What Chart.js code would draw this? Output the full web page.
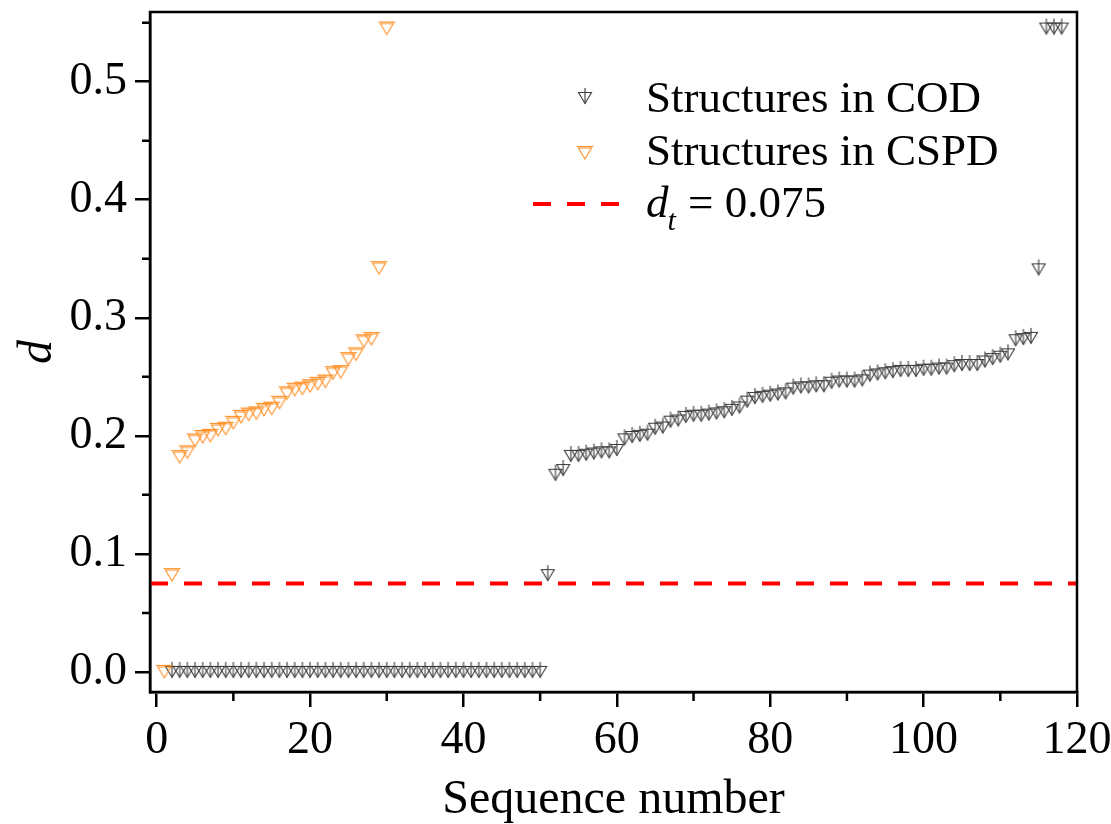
<!DOCTYPE html>
<html>
<head>
<meta charset="utf-8">
<script src="https://cdn.jsdelivr.net/npm/chart.js@4.4.1/dist/chart.umd.min.js"></script>
<style>
  body { margin: 0; background: #fff; }
  #wrap { width: 1111px; height: 824px; }
</style>
</head>
<body>
<div id="wrap"><canvas id="chart" width="1111" height="824"></canvas></div>
<script>
// sequence numbers start here for each series
const codStart = 2;
const cspdStart = 1;

// d values, Structures in COD
const codValues = [
  0, 0, 0, 0, 0, 0, 0, 0, 0, 0,
  0, 0, 0, 0, 0, 0, 0, 0, 0, 0,
  0, 0, 0, 0, 0, 0, 0, 0, 0, 0,
  0, 0, 0, 0, 0, 0, 0, 0, 0, 0,
  0, 0, 0, 0, 0, 0, 0, 0, 0,
  0.082,
  0.167, 0.171, 0.183, 0.183, 0.184, 0.185, 0.186, 0.186, 0.188,
  0.197, 0.199, 0.200, 0.201, 0.206, 0.207, 0.212, 0.213, 0.216, 0.217,
  0.217, 0.218, 0.219, 0.220, 0.222, 0.224, 0.229, 0.232, 0.233, 0.234,
  0.235, 0.236, 0.240, 0.241, 0.241, 0.242, 0.242, 0.245, 0.246, 0.246,
  0.246, 0.247, 0.251, 0.252, 0.253, 0.254, 0.255, 0.255, 0.255, 0.256,
  0.256, 0.257, 0.257, 0.259, 0.260, 0.260, 0.260, 0.263, 0.265, 0.267,
  0.269, 0.281, 0.282, 0.283, 0.341, 0.545, 0.545, 0.545
];

// d values, Structures in CSPD
const cspdValues = [
  0, 0.082,
  0.182, 0.186, 0.196, 0.199, 0.200, 0.205, 0.206, 0.211, 0.216, 0.218,
  0.219, 0.222, 0.223, 0.228, 0.236, 0.239, 0.240, 0.242, 0.244, 0.246,
  0.253, 0.254, 0.265, 0.269, 0.280, 0.282,
  0.342, 0.545
];

const threshold = 0.075;
const xRange = [-0.87, 120];
const yRange = [-0.017, 0.559];
const xMinorTicks = [10, 30, 50, 70, 90, 110];
const yMinorTicks = [0.05, 0.15, 0.25, 0.35, 0.45, 0.55];

const FONT = '"Liberation Serif", "Times New Roman", serif';

function toPoints(start, values) {
  return values.map((v, i) => ({ x: start + i, y: v }));
}

// down triangle with a vertical stem (COD symbol)
function codMarker() {
  const c = document.createElement('canvas');
  c.width = 18; c.height = 24;
  const g = c.getContext('2d');
  g.strokeStyle = '#3a3a3a';
  g.lineWidth = 1.1;
  g.beginPath();
  g.moveTo(2.5, 6.5); g.lineTo(15.5, 6.5); g.lineTo(9, 17.5); g.closePath();
  g.stroke();
  g.beginPath();
  g.moveTo(9, 2); g.lineTo(9, 17.5);
  g.stroke();
  return c;
}

// down triangle with a doubled top edge (CSPD symbol)
function cspdMarker() {
  const c = document.createElement('canvas');
  c.width = 20; c.height = 20;
  const g = c.getContext('2d');
  g.strokeStyle = '#ff8f26';
  g.lineWidth = 1.1;
  g.beginPath();
  g.moveTo(3.5, 5); g.lineTo(16.5, 5); g.lineTo(10, 16); g.closePath();
  g.stroke();
  g.beginPath();
  g.moveTo(1.5, 3.5); g.lineTo(18.5, 3.5);
  g.stroke();
  return c;
}

const codImg = codMarker();
const cspdImg = cspdMarker();

const framePlugin = {
  id: 'frame',
  afterDraw(chart) {
    const { ctx, chartArea: a, scales } = chart;
    ctx.save();
    ctx.strokeStyle = '#000';
    ctx.lineWidth = 2.5;
    ctx.strokeRect(a.left, a.top, a.right - a.left, a.bottom - a.top);
    // minor ticks
    ctx.beginPath();
    xMinorTicks.forEach(v => {
      const px = scales.x.getPixelForValue(v);
      ctx.moveTo(px, a.bottom); ctx.lineTo(px, a.bottom + 9);
    });
    yMinorTicks.forEach(v => {
      const py = scales.y.getPixelForValue(v);
      ctx.moveTo(a.left, py); ctx.lineTo(a.left - 8, py);
    });
    ctx.stroke();

    // legend
    ctx.fillStyle = '#000';
    ctx.textBaseline = 'alphabetic';
    ctx.textAlign = 'left';
    ctx.font = '45px ' + FONT;
    ctx.drawImage(codImg, 585 - codImg.width / 2, 98 - codImg.height / 2);
    ctx.fillText('Structures in COD', 646, 112);
    ctx.drawImage(cspdImg, 585 - cspdImg.width / 2, 153 - cspdImg.height / 2);
    ctx.fillText('Structures in CSPD', 646, 165);
    ctx.strokeStyle = '#ff0000';
    ctx.lineWidth = 4;
    ctx.setLineDash([18, 16]);
    ctx.beginPath();
    ctx.moveTo(533, 204); ctx.lineTo(621, 204);
    ctx.stroke();
    ctx.setLineDash([]);
    ctx.font = 'italic 45px ' + FONT;
    ctx.fillText('d', 646, 217);
    const dw = ctx.measureText('d').width;
    ctx.font = 'italic 30px ' + FONT;
    ctx.fillText('t', 646 + dw - 1, 230);
    const tw = ctx.measureText('t').width;
    ctx.font = '45px ' + FONT;
    ctx.fillText(' = 0.075', 646 + dw + tw, 217);
    ctx.restore();
  }
};

new Chart(document.getElementById('chart'), {
  type: 'scatter',
  data: {
    datasets: [
      {
        label: 'Structures in CSPD',
        data: toPoints(cspdStart, cspdValues),
        pointStyle: cspdImg,
        pointRadius: 6,
        order: 0
      },
      {
        label: 'Structures in COD',
        data: toPoints(codStart, codValues),
        pointStyle: codImg,
        pointRadius: 6,
        order: 1
      },
      {
        label: 'dt = 0.075',
        data: [{ x: xRange[0], y: threshold }, { x: xRange[1], y: threshold }],
        showLine: true,
        borderColor: '#ff0000',
        borderWidth: 4,
        borderDash: [18, 16],
        pointRadius: 0,
        order: 2
      }
    ]
  },
  options: {
    responsive: false,
    animation: false,
    layout: { autoPadding: false, padding: { top: 12, right: 34, left: 0, bottom: 0 } },
    plugins: {
      legend: { display: false },
      tooltip: { enabled: false }
    },
    scales: {
      x: {
        type: 'linear',
        min: xRange[0],
        max: xRange[1],
        afterFit: s => {
          s.height = 132;
          s.paddingLeft = 0; s.paddingRight = 0;
        },
        border: { color: '#000', width: 2.5 },
        grid: { drawOnChartArea: false, color: '#000', lineWidth: 2.5, tickLength: 15 },
        ticks: {
          stepSize: 20,
          includeBounds: false,
          maxRotation: 0,
          padding: 6,
          color: '#000',
          font: { family: FONT, size: 46 }
        },
        title: {
          display: true,
          text: 'Sequence number',
          color: '#000',
          font: { family: FONT, size: 48, lineHeight: 1.0 },
          padding: { top: 0, bottom: 0 }
        }
      },
      y: {
        type: 'linear',
        min: yRange[0],
        max: yRange[1],
        afterFit: s => {
          s.width = 150;
          s.paddingTop = 0; s.paddingBottom = 0;
        },
        border: { color: '#000', width: 2.5 },
        grid: { drawOnChartArea: false, color: '#000', lineWidth: 2.5, tickLength: 15 },
        ticks: {
          stepSize: 0.1,
          includeBounds: false,
          padding: 8,
          color: '#000',
          font: { family: FONT, size: 46 },
          callback: v => v.toFixed(1)
        },
        title: {
          display: true,
          text: 'd',
          color: '#000',
          font: { family: FONT, size: 48, style: 'italic' },
          padding: { top: 10, bottom: 0 }
        }
      }
    }
  },
  plugins: [framePlugin]
});
</script>
</body>
</html>
